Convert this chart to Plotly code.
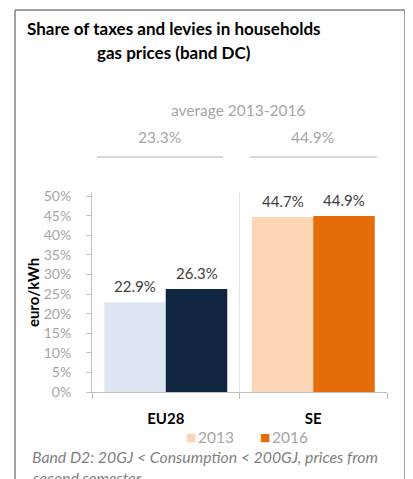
import plotly.graph_objects as go

categories = ["EU28", "SE"]
years = ["2013", "2016"]
share_2013 = [22.9, 44.7]
share_2016 = [26.3, 44.9]
average_2013_2016 = [23.3, 44.9]
colors_2013 = ["#dce6f2", "#fcd5b5"]
colors_2016 = ["#10253f", "#e46c0a"]
legend_colors = ["#fcd5b5", "#e46c0a"]
y_ticks = [0, 5, 10, 15, 20, 25, 30, 35, 40, 45, 50]
y_tick_labels = ["0%", "5%", "10%", "15%", "20%", "25%", "30%", "35%", "40%", "45%", "50%"]

FONT = "Lato"
OFF = 8  # page body margin
W, H = 413 - OFF, 479 - OFF
L, R, T, B = 92 - OFF, 26, 193 - OFF, 87
PW, PH = W - L - R, H - T - B
BARGAP = 0.166


def px(xp):
    return (xp - OFF - L) / PW


def py(yp):
    return (H - B - (yp - OFF)) / PH


fig = go.Figure()
for vals, cols, name in [(share_2013, colors_2013, years[0]), (share_2016, colors_2016, years[1])]:
    fig.add_trace(go.Bar(
        x=categories, y=vals, name=name,
        marker=dict(color=cols, line=dict(width=0)),
        showlegend=False,
    ))

annotations = [
    dict(text="<b>Share of taxes and levies in households</b>", x=px(174), y=py(28),
         font=dict(family=FONT, size=17, color="#000000")),
    dict(text="<b>gas prices (band DC)</b>", x=px(174), y=py(52),
         font=dict(family=FONT, size=17, color="#000000")),
    dict(text="average 2013-2016", x=px(238), y=py(110),
         font=dict(family=FONT, size=15.5, color="#a6a6a6")),
    dict(text="Band D2: 20GJ &lt; Consumption &lt; 200GJ, prices from", x=px(30), y=py(456),
         xanchor="left", font=dict(family=FONT, size=15.8, color="#7f7f7f", style="italic")),
    dict(text="second semester", x=px(30), y=py(477),
         xanchor="left", font=dict(family=FONT, size=15.8, color="#7f7f7f", style="italic")),
]
for a in annotations:
    a.update(xref="paper", yref="paper")
for cx, v in zip([159, 312], average_2013_2016):
    annotations.append(dict(text=f"{v:.1f}%", x=px(cx), y=py(137), xref="paper", yref="paper",
                            font=dict(family=FONT, size=15.5, color="#a6a6a6")))
for sx, yr, c in zip([185, 259], years, legend_colors):
    annotations.append(dict(text="■", x=px(sx - 1), y=py(437), xanchor="left",
                            xref="paper", yref="paper",
                            font=dict(family="DejaVu Sans", size=11, color=c)))
    annotations.append(dict(text=yr, x=px(sx + 11), y=py(437), xanchor="left",
                            xref="paper", yref="paper",
                            font=dict(family=FONT, size=15.5, color="#a6a6a6")))

# value labels above bars, placed on the data axes
half = (1 - BARGAP) / 4
for i, cat in enumerate(categories):
    for vals, sign in [(share_2013, -1), (share_2016, 1)]:
        annotations.append(dict(text=f"{vals[i]:.1f}%", x=i + sign * half, y=vals[i],
                                xref="x", yref="y", yshift=16,
                                font=dict(family=FONT, size=15, color="#404040")))

for a in annotations:
    a.update(showarrow=False)
    a.setdefault("xanchor", "center")
    a.setdefault("yanchor", "middle")

shapes = [
    # average underline
    dict(type="line", x0=px(97), x1=px(223), y0=py(157), y1=py(157),
         line=dict(color="#d9d9d9", width=2)),
    dict(type="line", x0=px(250), x1=px(377), y0=py(157), y1=py(157),
         line=dict(color="#d9d9d9", width=2)),
    # frame
    dict(type="line", x0=px(15), x1=px(405), y0=py(10), y1=py(10),
         line=dict(color="#a0a0a0", width=2)),
    dict(type="line", x0=px(15), x1=px(15), y0=py(10), y1=py(490),
         line=dict(color="#a0a0a0", width=2)),
    dict(type="line", x0=px(405), x1=px(405), y0=py(10), y1=py(490),
         line=dict(color="#a0a0a0", width=2)),
    dict(type="line", x0=px(407.5), x1=px(407.5), y0=py(12), y1=py(490),
         line=dict(color="#d0d0d0", width=2)),
]
for s in shapes:
    s.update(xref="paper", yref="paper", layer="above")

fig.update_layout(
    width=W, height=H,
    margin=dict(l=L, r=R, t=T, b=B, autoexpand=False),
    paper_bgcolor="white", plot_bgcolor="white",
    barmode="group", bargap=BARGAP, bargroupgap=0,
    showlegend=False,
    annotations=annotations, shapes=shapes,
    xaxis=dict(
        type="category", tickson="boundaries", ticks="outside", ticklen=6,
        tickcolor="#bfbfbf", showline=True, linecolor="#bfbfbf", linewidth=1,
        showgrid=True, gridcolor="#e3e3e3", gridwidth=1,
        tickfont=dict(family=FONT, size=15, color="#000000", weight="bold"),
        ticklabelposition="outside", ticklabelstandoff=13,
        automargin=False,
    ),
    yaxis=dict(
        range=[0, 50.8], tickvals=y_ticks, ticktext=y_tick_labels,
        ticks="outside", ticklen=5, tickcolor="#bfbfbf",
        showline=True, linecolor="#bfbfbf", linewidth=1,
        showgrid=False, zeroline=False,
        tickfont=dict(family=FONT, size=14, color="#a6a6a6"),
        ticklabelposition="outside", ticklabelstandoff=12,
        title=dict(text="<b>euro/kWh</b>", standoff=0,
                   font=dict(family=FONT, size=15, color="#000000")),
        automargin=False,
    ),
)

fig.write_html("out.html")
